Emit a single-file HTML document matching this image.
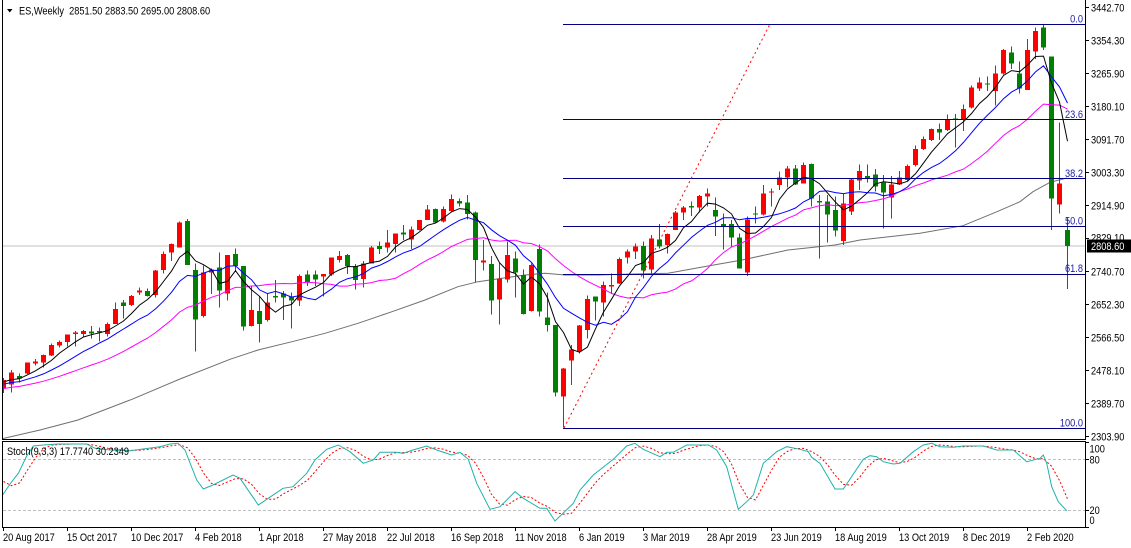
<!DOCTYPE html>
<html><head><meta charset="utf-8">
<style>
html,body{margin:0;padding:0;background:#fff;overflow:hidden;}
svg{display:block;}
text{font-family:"Liberation Sans",Arial,sans-serif;font-size:11px;fill:#000;white-space:pre;}
.fb{fill:#1c1ca8;}
</style></head><body>
<svg id="c" width="1131" height="548" viewBox="0 0 1131 548" xmlns="http://www.w3.org/2000/svg">
<defs>
<clipPath id="mp"><rect x="3" y="0" width="1082" height="439"/></clipPath>
<clipPath id="sp"><rect x="3" y="442" width="1082" height="85"/></clipPath>
</defs>
<rect width="1131" height="548" fill="#fff"/>
<g id="main" clip-path="url(#mp)"></g>
<g id="stoch" clip-path="url(#sp)"></g>

<!-- frames -->
<g stroke="#000" stroke-width="1" fill="none" shape-rendering="crispEdges">
<line x1="2.5" y1="0" x2="2.5" y2="439.5"/>
<line x1="1085.5" y1="0" x2="1085.5" y2="439.5"/>
<line x1="2" y1="439.5" x2="1086" y2="439.5"/>
<rect x="2.5" y="441.5" width="1083" height="86"/>
</g>

<!-- price ticks -->
<g stroke="#000" stroke-width="1" shape-rendering="crispEdges" id="ticks"></g>

<!-- header -->
<polygon points="7,9 12.5,9 9.75,12.5" fill="#000"/>
<text transform="translate(19,14.5) scale(0.84,1)">ES,Weekly  2851.50 2883.50 2695.00 2808.60</text>

<!-- price axis labels -->
<g>
<text transform="translate(1091,11.3) scale(0.84,1)">3442.70</text>
<text transform="translate(1091,44.3) scale(0.84,1)">3354.30</text>
<text transform="translate(1091,77.3) scale(0.84,1)">3265.90</text>
<text transform="translate(1091,110.3) scale(0.84,1)">3180.10</text>
<text transform="translate(1091,143.3) scale(0.84,1)">3091.70</text>
<text transform="translate(1091,176.3) scale(0.84,1)">3003.30</text>
<text transform="translate(1091,209.3) scale(0.84,1)">2914.90</text>
<text transform="translate(1091,241.3) scale(0.84,1)">2829.10</text>
<text transform="translate(1091,275.3) scale(0.84,1)">2740.70</text>
<text transform="translate(1091,308.3) scale(0.84,1)">2652.30</text>
<text transform="translate(1091,341.3) scale(0.84,1)">2566.50</text>
<text transform="translate(1091,374.3) scale(0.84,1)">2478.10</text>
<text transform="translate(1091,407.3) scale(0.84,1)">2389.70</text>
<text transform="translate(1091,440.3) scale(0.84,1)">2303.90</text>
</g>
<rect x="1087" y="239.5" width="44" height="13" fill="#000"/>
<text transform="translate(1091,250) scale(0.84,1)" style="fill:#fff">2808.60</text>

<!-- stoch axis labels -->
<text transform="translate(1089.5,452.3) scale(0.84,1)">100</text>
<text transform="translate(1089.5,463.3) scale(0.84,1)">80</text>
<text transform="translate(1089.5,514) scale(0.84,1)">20</text>
<text transform="translate(1089.5,524) scale(0.84,1)">0</text>
<text transform="translate(7,455) scale(0.84,1)">Stoch(9,3,3) 17.7740 30.2349</text>

<!-- date labels -->
<g>
<text transform="translate(3,541) scale(0.84,1)">20 Aug 2017</text>
<text transform="translate(67,541) scale(0.84,1)">15 Oct 2017</text>
<text transform="translate(131,541) scale(0.84,1)">10 Dec 2017</text>
<text transform="translate(195,541) scale(0.84,1)">4 Feb 2018</text>
<text transform="translate(259,541) scale(0.84,1)">1 Apr 2018</text>
<text transform="translate(323,541) scale(0.84,1)">27 May 2018</text>
<text transform="translate(387,541) scale(0.84,1)">22 Jul 2018</text>
<text transform="translate(451,541) scale(0.84,1)">16 Sep 2018</text>
<text transform="translate(515,541) scale(0.84,1)">11 Nov 2018</text>
<text transform="translate(579,541) scale(0.84,1)">6 Jan 2019</text>
<text transform="translate(643,541) scale(0.84,1)">3 Mar 2019</text>
<text transform="translate(707,541) scale(0.84,1)">28 Apr 2019</text>
<text transform="translate(771,541) scale(0.84,1)">23 Jun 2019</text>
<text transform="translate(835,541) scale(0.84,1)">18 Aug 2019</text>
<text transform="translate(899,541) scale(0.84,1)">13 Oct 2019</text>
<text transform="translate(963,541) scale(0.84,1)">8 Dec 2019</text>
<text transform="translate(1027,541) scale(0.84,1)">2 Feb 2020</text>
</g>

<!-- fib labels -->
<g text-anchor="end">
<text class="fb" transform="translate(1083,22.3) scale(0.84,1)">0.0</text>
<text class="fb" transform="translate(1083,118) scale(0.84,1)">23.6</text>
<text class="fb" transform="translate(1083,177) scale(0.84,1)">38.2</text>
<text class="fb" transform="translate(1083,224.3) scale(0.84,1)">50.0</text>
<text class="fb" transform="translate(1083,272) scale(0.84,1)">61.8</text>
<text class="fb" transform="translate(1083,426.3) scale(0.84,1)">100.0</text>
</g>
</svg>
<script>
(function(){
var NS="http://www.w3.org/2000/svg";
function el(p,t,a){var e=document.createElementNS(NS,t);for(var k in a)e.setAttribute(k,a[k]);p.appendChild(e);return e;}
var D=[
['R',380,388.3,378,393],['R',372.3,384.3,370,392.7],['G',376,378.3,373.3,382.7],['R',362.3,373.3,362.3,374],
['R',361.3,363.3,359,365.7],['R',355,362.7,354.3,367.3],['R',345,355.7,343.3,356],['R',342,345.3,340.7,347.7],
['R',334.3,342,334.3,346.7],['R',332.7,334,331,346.7],['R',331,334,330,336.7],['G',331.3,333.3,326,338.3],
['G',331,332.7,327.7,341.7],['R',324,334,322.7,336.7],['R',309,324,302.3,324],['G',302.3,306,300,318.3],
['R',296,305,295,306],['R',290.7,292.7,287.3,295],['G',291,296,288.3,296.7],['R',270.7,295,270,297.3],
['R',254,270,251.7,273.3],['R',244,252.3,243.3,261],['R',222.3,247.7,221.7,247.7],['G',221,265,219,265],
['G',270,319.3,263.3,351.7],['R',272.7,316,265.7,317.3],['R',269.3,272.7,268.3,294],['G',267.3,290.7,252.7,307.3],
['R',255,293.3,255,300.7],['G',254,266,248.3,271.7],['G',266,326.7,266,330.7],['R',310,326,286,326.7],
['G',311,324,296.7,342.7],['R',302.3,320,293.3,321.7],['G',296,297.7,280,302.7],['G',293.3,297.7,291,320],
['G',296.7,300.7,292.7,328.3],['R',276,300.7,274.3,306],['G',274.3,282.3,270.7,286],['G',274.3,279.3,270.7,286],
['R',274,276.7,274,296.7],['R',257.3,274.3,257.3,276],['R',256,260,251,262.7],['G',255,266,254,274],
['G',266,280,264,289.3],['R',263.3,279,261,287.3],['R',247.3,263.3,246,263.3],['G',246,249,241.7,254],
['R',242.3,247.7,230,252.7],['R',233.3,244,233.3,252.7],['G',232.7,234.7,225,240],['R',229.3,239.3,226.7,249],
['R',220,230,220,230.7],['R',209.3,220,205,220],['G',209,222.3,208.3,223.3],['R',209,221.7,206.7,222.3],
['R',199,211,194.3,212.3],['G',201,203.3,198.3,206.7],['G',202.3,214,195,219.3],['G',212.3,260,211.7,282.3],
['R',260.7,262.7,240,270.7],['G',264,300.7,256,314.3],['R',278.3,299.3,262.7,324.3],['R',255,279.3,241.7,282.7],
['G',258.3,272.7,251.7,297.3],['G',275,314,269.3,314.3],['R',265,311,263.3,311.7],['G',249,311.7,244.3,316.7],
['G',317.7,325,292.7,331.7],['G',325,392.7,325,396.7],['R',368.3,396.7,368,427.7],['R',349.3,360.7,345,385],
['R',325.7,351.7,325,353.3],['R',299,330,295.7,338.3],['G',296.7,301.7,296.7,320.7],['R',285,302.7,281.7,316.7],
['R',285,286.7,273.3,294],['R',259,283.3,257.3,284],['R',251.7,257.7,249.3,263.3],['R',246.7,251.7,243.3,259],
['G',246,270.7,241.7,278.3],['R',238.3,269.3,235,273.3],['G',239.3,246.7,224,248.3],['R',234,245,233.3,253.3],
['R',212.3,230,211,230],['R',207.3,212.7,206,220],['G',206,207.3,201.7,216],['R',196,207.7,195,212.7],
['R',193.3,196.7,188.3,206.7],['G',210,216.7,197.3,236],['G',224,226,213.3,249.3],['G',224,237.3,220,247.3],
['G',237.3,268.3,233.3,268.3],['R',219.3,272.7,216.7,276],['G',213.3,214.3,206.7,223.3],['R',193.3,214.3,185,215.7],
['R',191.7,192.3,188.3,206.7],['R',177.3,185,171.7,190],['R',168.3,177.3,166,187.3],['G',168.3,184.3,165,185],
['R',165,183.3,162.7,183.3],['G',164,198.3,163.3,206.7],['G',201,202.7,195,258.3],['G',201.7,214.3,195,242.7],
['G',210,230.7,196.7,236.7],['R',203.3,241,193.3,245],['R',179.3,211.7,178.3,215],['R',171,180.7,164.3,190],
['G',176,179,164.3,182.7],['G',174.3,186.7,169,191.7],['G',182.7,192.3,175,228.3],['R',184.3,197.7,176,218.3],
['R',177.3,184.3,171,185],['R',166,180,164.3,181.7],['R',149,165,145.7,166.7],['R',139,149,136.7,150],
['R',129,140,128.3,141],['G',129,132.3,123.3,140],['R',119.3,130,114.3,131],['G',118.3,119.3,114,147.7],
['R',109,119,104.3,131],['R',87.7,107.7,85.7,108.3],['R',82.3,88.3,77.7,91],['G',83.3,84.3,76.7,91],
['R',73.3,91,65.7,105.7],['R',50,73.3,49,74.3],['G',52.3,63.3,46.7,69],['G',73.3,88.3,61.7,93.3],
['R',50,90,39,90],['R',31,51.7,27.7,59],['G',27.7,47.7,24.3,50],['G',56.7,198.3,56.7,230],
['R',183.3,204.3,122.3,213.3],['G',230,245.8,218,288.8]
];
var M=document.getElementById('main');
el(M,'line',{x1:3,y1:246,x2:1085,y2:246,stroke:'#c0c0c0','stroke-width':1,'shape-rendering':'crispEdges'});
var G=[[3,438.5],[40,430],[78,420],[132,399.3],[180,379],[230,359.3],[258,350],[292,341.7],[325,333.3],[358,323.3],[392,311.7],[425,300],[458,286.7],[478,281.7],[502,278.3],[525,275],[545,273.3],[565,275],[598,275],[622,274.3],[668,273.3],[708,266],[742,260],[788,250],[835,245],[860,240],[920,233.3],[963,225.7],[997,211.7],[1020,201.7],[1033,191.7],[1050,182.3],[1067,178]];
el(M,'polyline',{points:G.map(function(p){return p[0]+','+p[1];}).join(' '),fill:'none',stroke:'#6f6f6f','stroke-width':1});
for(var i=0;i<D.length;i++){
  var d=D[i],cx=3+8*i,col=d[0]=='R'?'#ff0000':'#008000';
  el(M,'rect',{x:cx,y:d[3],width:1,height:Math.max(1,d[4]-d[3]),fill:col,'shape-rendering':'crispEdges'});
  el(M,'rect',{x:cx-2,y:d[1],width:5,height:Math.max(1,d[2]-d[1]),fill:col,'shape-rendering':'crispEdges'});
}
var C=D.map(function(d){return d[0]=='R'?d[1]:d[2];});
var pad=[];for(var j=0;j<19;j++){pad.push(397-16*j/18);}
var all=pad.concat(C);
function sma(n){var pts=[];for(var i=0;i<C.length;i++){var s=0;for(var k=0;k<n;k++)s+=all[19+i-k];pts.push((3.5+8*i)+','+(s/n).toFixed(1));}return pts.join(' ');}
el(M,'polyline',{points:sma(20),fill:'none',stroke:'#ff00ff','stroke-width':1});
el(M,'polyline',{points:sma(10),fill:'none',stroke:'#0000ff','stroke-width':1});
el(M,'polyline',{points:sma(5),fill:'none',stroke:'#000000','stroke-width':1});
var fy=[24.5,119.5,178.5,226.5,274.5,428.5];
fy.forEach(function(y){el(M,'line',{x1:563,y1:y,x2:1085,y2:y,stroke:'#000080','stroke-width':1,'shape-rendering':'crispEdges'});});
el(M,'line',{x1:564,y1:428,x2:770,y2:24,stroke:'#ff0000','stroke-width':1,'stroke-dasharray':'2,3'});
var T=document.getElementById('ticks');
for(var k=0;k<14;k++){var y=Math.round(7.3+33*k)+0.5;el(T,'line',{x1:1085,y1:y,x2:1089,y2:y});}
[442,459,510,527].forEach(function(y){el(T,'line',{x1:1085,y1:y+0.5,x2:1089,y2:y+0.5});});
for(var k=0;k<17;k++){var x=3+64*k+0.5;el(T,'line',{x1:x,y1:527,x2:x,y2:531});}
var S=document.getElementById('stoch');
el(S,'line',{x1:3,y1:459.5,x2:1085,y2:459.5,stroke:'#c0c0c0','stroke-dasharray':'3,2','stroke-width':1});
el(S,'line',{x1:3,y1:510.5,x2:1085,y2:510.5,stroke:'#c0c0c0','stroke-dasharray':'3,2','stroke-width':1});
var K=[[-13,470],[-5,480],[2,496],[10,484],[18.3,473.3],[26.7,456],[33.3,446],[43.3,445],[58,444],[86.7,444],[95,448.3],[110,450],[130,450.7],[143,449],[160,446.7],[170,444],[178,443.3],[185,450],[196.7,480],[203.3,489],[213,485],[233,475],[240,478.3],[258.3,505],[266.7,499.3],[283,488.3],[293,486.7],[306.7,473.3],[315,460],[326.7,449.3],[338.3,445],[350,451.7],[363.3,463.3],[373.3,460],[380,452.3],[396.7,452.3],[403,453.3],[413,450],[426.7,446],[436.7,450],[451.7,455],[460,452.3],[468.3,459.3],[476.7,483.3],[490,509.3],[500,506.7],[515,491.7],[523.3,498.3],[540,508.3],[546.7,508.3],[555,521],[573.3,503.3],[580,490],[593.3,475],[613.3,459.3],[626.7,446],[635,443.3],[643.3,449.3],[660,456.7],[666.7,452.3],[673.3,452.3],[686.7,445],[708.3,445],[716.7,450],[726.7,466.7],[738.3,509.3],[746.7,501.7],[753.3,495],[763.3,463.3],[776.7,451.7],[786.7,446.7],[800,449.3],[808.3,451.7],[811.7,457.3],[820,463.3],[835,489],[843.3,489],[863.3,459.3],[870,455.7],[876.7,456.7],[883.3,461.7],[893.3,464],[900,463.3],[913.3,451.7],[923.3,445],[931.7,443.3],[940,446.7],[953.3,447.3],[963.3,446],[983.3,446],[996.7,450],[1013.3,450],[1026.7,461.7],[1040,458.3],[1043.3,455],[1046.7,463.3],[1051.7,486.7],[1058.3,501.7],[1066.7,510.7]];
function kAt(x){if(x<=K[0][0])return K[0][1];for(var i=1;i<K.length;i++){if(x<=K[i][0]){var a=K[i-1],b=K[i];return a[1]+(b[1]-a[1])*(x-a[0])/(b[0]-a[0]);}}return K[K.length-1][1];}
var ks=[];for(var i=-2;i<134;i++)ks.push(kAt(3+8*i));
var sig=[];for(var i=0;i<134;i++){sig.push((3.5+8*i)+','+((ks[i]+ks[i+1]+ks[i+2])/3).toFixed(1));}
el(S,'polyline',{points:sig.join(' '),fill:'none',stroke:'#ff0000','stroke-width':1,'stroke-dasharray':'2,2'});
el(S,'polyline',{points:K.map(function(p){return p[0]+','+p[1];}).join(' '),fill:'none',stroke:'#20b2aa','stroke-width':1});
})();
</script>
</body></html>
